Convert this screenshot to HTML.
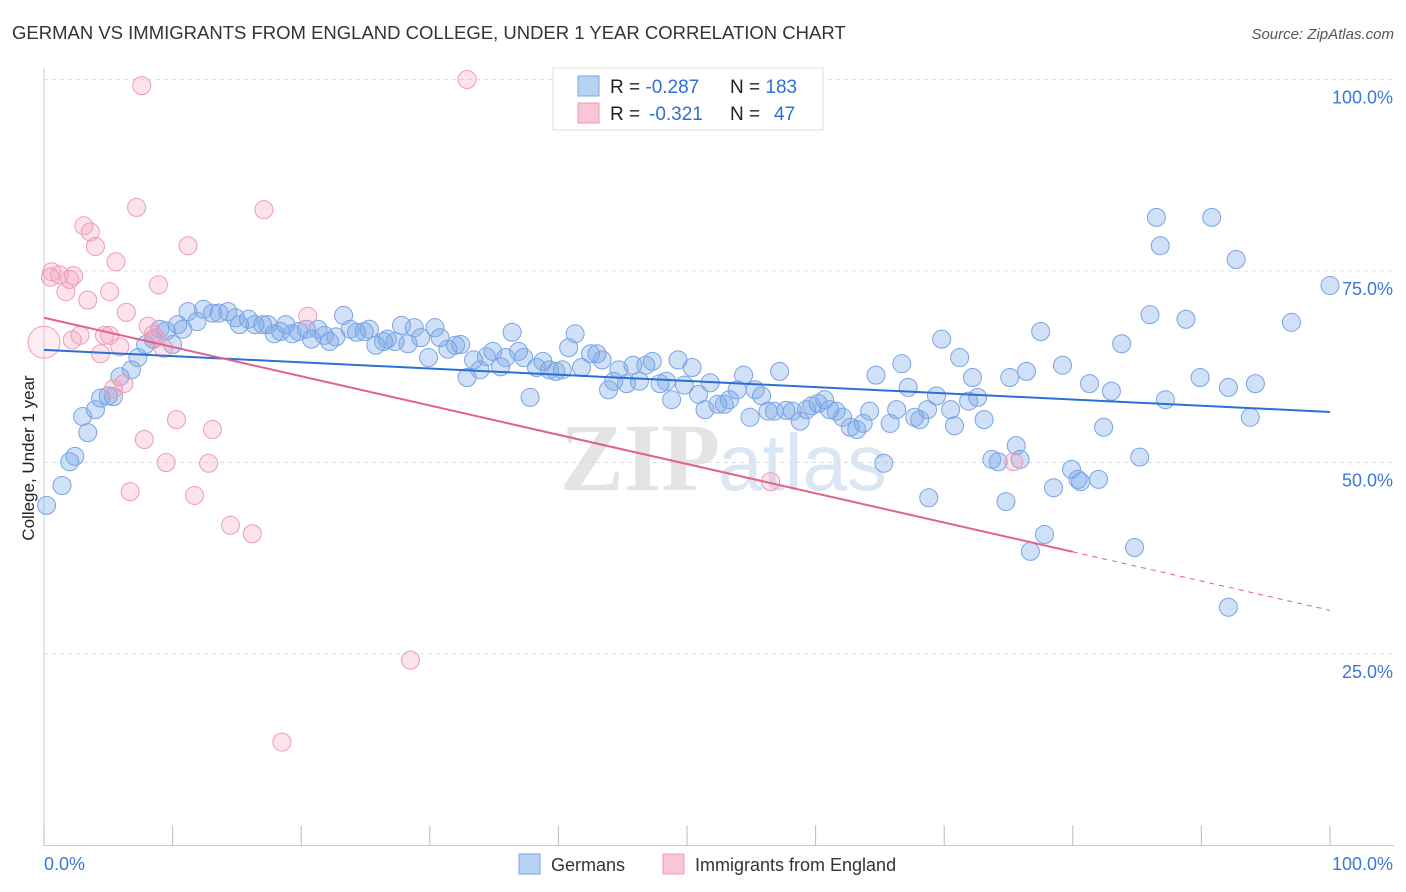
<!DOCTYPE html>
<html><head><meta charset="utf-8">
<style>
body{margin:0;background:#fff;font-family:"Liberation Sans",sans-serif;}
#wrap{position:relative;width:1406px;height:892px;overflow:hidden;}
</style></head>
<body>
<div id="wrap">
<svg id="svg" width="1406" height="892" xmlns="http://www.w3.org/2000/svg">
<text x="12" y="39" font-size="18.5" fill="#333">GERMAN VS IMMIGRANTS FROM ENGLAND COLLEGE, UNDER 1 YEAR CORRELATION CHART</text>
<text x="1394" y="39" font-size="15" fill="#555" font-style="italic" text-anchor="end">Source: ZipAtlas.com</text>
<text x="720" y="490" font-size="96" fill="#e4e4e4" text-anchor="end" font-family="Liberation Serif,serif" font-weight="bold">ZIP</text>
<text x="718" y="490" font-size="80" fill="#dbe6f5">atlas</text>
<text transform="translate(34,458) rotate(-90)" font-size="17" fill="#222" text-anchor="middle">College, Under 1 year</text>
<g id="grid"></g><g id="axes"></g><g id="pts"></g><g id="trend"></g>
<g>
<rect x="553" y="68" width="270" height="62" fill="#fff" stroke="#ddd"/>
<rect x="578" y="76" width="21" height="20" fill="#b8d2f4" stroke="#7aa6e6"/>
<rect x="578" y="103" width="21" height="20" fill="#f8c6d6" stroke="#ec9ab6"/>
<text x="610" y="93" font-size="19" fill="#222">R = <tspan fill="#2f6fd2">-0.287</tspan><tspan x="730">N = </tspan><tspan fill="#2f6fd2">183</tspan></text>
<text x="610" y="120" font-size="19" fill="#222">R = <tspan fill="#2f6fd2" x="649">-0.321</tspan><tspan x="730">N = </tspan><tspan fill="#2f6fd2" x="774">47</tspan></text>
</g>
<g>
<rect x="519" y="854" width="21" height="20" fill="#b8d2f4" stroke="#7aa6e6"/>
<text x="551" y="871" font-size="18" fill="#333">Germans</text>
<rect x="663" y="854" width="21" height="20" fill="#f8c6d6" stroke="#ec9ab6"/>
<text x="695" y="871" font-size="18" fill="#333">Immigrants from England</text>
</g>
</svg>
</div>
<script>
const blueX=[0.2,1.4,2.0,2.4,3.0,3.4,4.0,4.4,5.0,5.4,5.9,6.8,7.3,7.9,8.5,9.0,9.5,10.0,10.4,10.8,11.2,11.9,12.4,13.1,13.6,14.3,14.9,15.2,15.9,16.4,17.0,17.4,17.9,18.4,18.8,19.3,19.8,20.4,20.8,21.3,21.8,22.2,22.7,23.3,23.8,24.3,24.9,25.3,25.8,26.4,26.7,27.3,27.8,28.3,28.8,29.3,29.9,30.4,30.8,31.4,32.0,32.4,32.9,33.4,33.9,34.4,34.9,35.5,35.9,36.4,36.9,37.3,37.8,38.3,38.8,39.3,39.8,40.3,40.8,41.3,41.8,42.5,43.0,43.4,43.9,44.3,44.7,45.3,45.8,46.3,46.8,47.3,47.9,48.4,48.8,49.3,49.8,50.4,50.9,51.4,51.8,52.4,52.9,53.3,53.9,54.4,54.9,55.3,55.8,56.3,56.8,57.2,57.7,58.2,58.8,59.3,59.7,60.2,60.7,61.1,61.6,62.1,62.7,63.2,63.7,64.2,64.7,65.3,65.8,66.3,66.7,67.2,67.7,68.1,68.7,68.8,69.4,69.8,70.5,70.8,71.2,71.9,72.2,72.6,73.1,73.7,74.2,74.8,75.1,75.6,75.9,76.4,76.7,77.5,77.8,78.5,79.2,79.9,80.4,80.6,81.3,82.0,82.4,83.0,83.8,84.8,85.2,86.0,86.5,86.8,87.2,88.8,89.9,90.8,92.1,92.1,92.7,93.8,94.2,97.0,100];
const blueY=[44.4,47.0,50.1,50.8,56.0,53.9,56.9,58.4,58.7,58.6,61.2,62.1,63.7,65.4,66.1,67.4,67.2,65.4,68.0,67.4,69.7,68.4,70.0,69.5,69.5,69.7,68.9,68.0,68.7,68.0,68.0,68.0,66.8,67.1,68.0,66.8,67.1,67.4,66.1,67.4,66.6,65.8,66.4,69.2,67.4,67.0,67.1,67.4,65.3,65.8,66.1,65.8,67.9,65.5,67.6,66.3,63.7,67.6,66.3,64.8,65.3,65.4,61.1,63.4,62.1,63.8,64.5,62.5,63.7,67.0,64.5,63.7,58.5,62.4,63.2,62.1,61.9,62.1,65.0,66.8,62.4,64.2,64.2,63.4,59.5,60.6,62.1,60.3,62.7,60.6,62.7,63.2,60.3,60.6,58.2,63.4,60.1,62.4,58.9,56.9,60.4,57.6,57.6,58.2,59.5,61.4,55.9,59.5,58.7,56.7,56.7,61.9,56.8,56.7,55.4,56.9,57.4,57.7,58.2,56.9,56.7,55.9,54.6,54.3,55.1,56.7,61.4,49.9,55.1,56.9,62.9,59.8,55.9,55.6,56.9,45.4,58.7,66.1,56.9,54.8,63.7,58.0,61.1,58.5,55.6,50.4,50.1,44.9,61.1,52.2,50.4,61.9,38.4,67.1,40.6,46.7,62.7,49.1,47.8,47.5,60.3,47.8,54.6,59.3,65.5,38.9,50.7,69.3,82.0,78.3,58.2,68.7,61.1,82.0,31.1,59.8,76.5,55.9,60.3,68.3,73.1];
const pinkX=[0.0,0.5,0.6,1.2,1.7,2.0,2.3,2.8,3.1,3.4,3.6,4.0,4.4,4.7,5.1,5.6,5.9,6.2,6.4,6.7,7.2,7.6,7.8,8.1,8.7,8.9,9.5,10.3,11.2,11.7,12.8,13.1,14.5,16.2,17.1,18.5,20.5,28.5,32.9,56.5,75.4,5.4,8.5,9.3,5.1,2.2];
const pinkY=[65.7,74.2,74.9,74.5,72.3,73.9,74.4,66.6,80.9,71.2,80.1,78.2,64.2,66.6,72.3,76.2,65.1,60.3,69.6,46.2,83.3,99.2,53.0,67.8,66.3,73.2,50.0,55.6,78.3,45.7,49.9,54.3,41.8,40.7,83.0,13.5,69.1,24.2,100,47.5,50.1,59.6,66.7,64.9,66.6,66.0];
const blueTrend=[64.7,56.6];
const pinkTrend=[68.9,30.7];
const pinkSolidEnd=80;
const yTicks=[100,75,50,25];
const xTickVals=[0,10,20,30,40,50,60,70,80,90,100];

const X0=44,X1=1330,Y0=845.5,Y1=79.5;
const sx=v=>X0+(X1-X0)*v/100;
const sy=v=>Y0-(Y0-Y1)*v/100;
const NS='http://www.w3.org/2000/svg';
function mk(tag,attrs,parent){const e=document.createElementNS(NS,tag);for(const k in attrs)e.setAttribute(k,attrs[k]);parent.appendChild(e);return e;}
const grid=document.getElementById('grid'),axes=document.getElementById('axes'),pts=document.getElementById('pts'),trend=document.getElementById('trend');
yTicks.forEach(v=>{
  const l=mk('line',{x1:X0,x2:1394,y1:sy(v),y2:sy(v),stroke:'#ddd','stroke-dasharray':'4,4'},grid);
  
  
  const t=mk('text',{x:1393,y:sy(v)+24,'font-size':18,fill:'#3a78d8','text-anchor':'end'},axes);
  t.textContent=v.toFixed(1)+'%';
  
  
});
const ax=mk('line',{x1:X0,x2:X0,y1:68,y2:Y0,stroke:'#ccc'},axes);


const bx=mk('line',{x1:X0,x2:1394,y1:Y0,y2:Y0,stroke:'#ccc'},axes);


xTickVals.forEach(v=>{
  const t=mk('line',{x1:sx(v),x2:sx(v),y1:Y0-20,y2:Y0,stroke:'#bbb'},axes);
  
  
});
const xl0=mk('text',{x:44,y:870,'font-size':18,fill:'#3a78d8'},axes);xl0.textContent='0.0%';


const xl1=mk('text',{x:1393,y:870,'font-size':18,fill:'#3a78d8','text-anchor':'end'},axes);xl1.textContent='100.0%';


blueX.forEach((x,i)=>{
  const c=mk('circle',{cx:sx(x),cy:sy(blueY[i]),r:9,fill:'rgba(120,165,230,0.35)',stroke:'#79a4e4','stroke-width':1},pts);
  
  
});
pinkX.forEach((x,i)=>{
  const c=mk('circle',{cx:sx(x),cy:sy(pinkY[i]),r:i===0?16:9,fill:i===0?'rgba(245,160,190,0.2)':'rgba(245,160,190,0.3)',stroke:'#ee9ab8','stroke-width':1},pts);
  
  
});
const bl=mk('line',{x1:sx(0),y1:sy(blueTrend[0]),x2:sx(100),y2:sy(blueTrend[1]),stroke:'#2b6fd6','stroke-width':2},trend);


const pAt=x=>pinkTrend[0]+(pinkTrend[1]-pinkTrend[0])*x/100;
const pl=mk('line',{x1:sx(0),y1:sy(pinkTrend[0]),x2:sx(pinkSolidEnd),y2:sy(pAt(pinkSolidEnd)),stroke:'#e0608e','stroke-width':2},trend);


const pd=mk('line',{x1:sx(pinkSolidEnd),y1:sy(pAt(pinkSolidEnd)),x2:sx(100),y2:sy(pinkTrend[1]),stroke:'#e0608e','stroke-width':1,'stroke-dasharray':'5,5'},trend);


</script>
</body></html>
